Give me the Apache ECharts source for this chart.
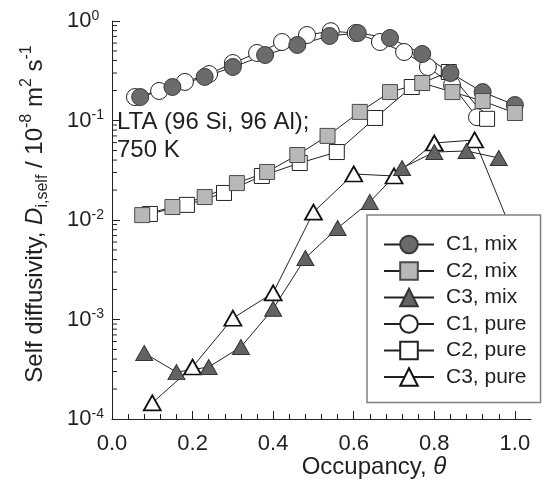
<!DOCTYPE html>
<html><head><meta charset="utf-8">
<script src="https://cdn.jsdelivr.net/npm/echarts@6/dist/echarts.min.js"></script>
<style>html,body{margin:0;padding:0;background:#fff}#c{width:544px;height:498px}</style>
</head><body><div id="c"></div>
<script>
// ---- data ----
const thetaC1Mix = [0.07, 0.15, 0.23, 0.30, 0.38, 0.46, 0.54, 0.61, 0.69, 0.77, 0.84, 0.92, 1.00];
const dC1Mix     = [0.172, 0.217, 0.274, 0.345, 0.455, 0.574, 0.707, 0.757, 0.675, 0.466, 0.300, 0.193, 0.143];
const thetaC2Mix = [0.075, 0.15, 0.23, 0.31, 0.385, 0.46, 0.535, 0.615, 0.69, 0.77, 0.845, 0.92, 1.00];
const dC2Mix     = [0.0112, 0.0135, 0.0170, 0.0235, 0.0304, 0.045, 0.070, 0.122, 0.193, 0.238, 0.193, 0.157, 0.119];
const thetaC3Mix = [0.08, 0.16, 0.24, 0.32, 0.40, 0.48, 0.56, 0.64, 0.72, 0.80, 0.88, 0.96];
const dC3Mix     = [4.6e-4, 2.96e-4, 3.33e-4, 5.3e-4, 1.28e-3, 4.15e-3, 8.3e-3, 0.0152, 0.0333, 0.0482, 0.0494, 0.042];
const thetaC1Pure = [0.057, 0.117, 0.181, 0.241, 0.300, 0.360, 0.422, 0.484, 0.543, 0.605, 0.665, 0.725, 0.784, 0.844, 0.906];
const dC1Pure     = [0.172, 0.198, 0.244, 0.293, 0.378, 0.477, 0.615, 0.723, 0.79, 0.757, 0.615, 0.488, 0.345, 0.227, 0.108];
const thetaC2Pure = [0.094, 0.186, 0.278, 0.372, 0.466, 0.558, 0.653, 0.744, 0.836, 0.931];
const dC2Pure     = [0.0115, 0.0142, 0.0187, 0.0277, 0.0374, 0.0482, 0.106, 0.217, 0.307, 0.104];
const thetaC3Pure = [0.10, 0.20, 0.30, 0.40, 0.50, 0.60, 0.70, 0.80, 0.90, 1.00];
const dC3Pure     = [1.45e-4, 3.33e-4, 1.03e-3, 1.85e-3, 0.0120, 0.029, 0.0277, 0.0594, 0.0637, 0.0065];

const seriesNames = ['C1, mix', 'C2, mix', 'C3, mix', 'C1, pure', 'C2, pure', 'C3, pure'];
const xMajorTicks = [0, 0.2, 0.4, 0.6, 0.8, 1.0];
const xMinorTicks = [0.04, 0.08, 0.12, 0.16, 0.24, 0.28, 0.32, 0.36, 0.44, 0.48, 0.52, 0.56,
                     0.64, 0.68, 0.72, 0.76, 0.84, 0.88, 0.92, 0.96];
const yMinorTicks = [2e-4,3e-4,4e-4,5e-4,6e-4,7e-4,8e-4,9e-4,
                     2e-3,3e-3,4e-3,5e-3,6e-3,7e-3,8e-3,9e-3,
                     2e-2,3e-2,4e-2,5e-2,6e-2,7e-2,8e-2,9e-2,
                     0.2,0.3,0.4,0.5,0.6,0.7,0.8,0.9];
const annotation = ['LTA (96 Si, 96 Al);', '750 K'];

// ---- chart ----
const FONT = '"Liberation Sans", Arial, sans-serif';
const INK = '#231f20';
const zip = (xs, ys) => xs.map((x, i) => [x, ys[i]]);
const LINE = { color: '#222', width: 1 };

function lineSeries(name, xs, ys, symbol, size, fill, border, bw) {
  return {
    name, type: 'line', data: zip(xs, ys), symbol, symbolSize: size,
    showSymbol: true, showAllSymbol: true,
    lineStyle: LINE,
    itemStyle: { color: fill, borderColor: border, borderWidth: bw, opacity: 1 },
    emphasis: { disabled: true }, clip: false
  };
}

const chart = echarts.init(document.getElementById('c'), null, { renderer: 'canvas' });
chart.setOption({
  animation: false,
  textStyle: { fontFamily: FONT },
  grid: { left: 112, right: 13, top: 21, bottom: 79, containLabel: false },
  xAxis: [{
    type: 'value', min: 0, max: 1.04,
    axisLine: { lineStyle: { color: '#222', width: 1 } },
    axisTick: { inside: true, length: 5, customValues: xMinorTicks, lineStyle: { color: '#222' } },
    axisLabel: { customValues: xMajorTicks, formatter: v => v.toFixed(1), fontSize: 22, color: INK, margin: 14, fontFamily: FONT },
    splitLine: { show: false }
  }, {
    type: 'value', min: 0, max: 1.04, position: 'bottom',
    axisLine: { show: false },
    axisTick: { inside: true, length: 8, customValues: xMajorTicks, lineStyle: { color: '#222' } },
    axisLabel: { show: false },
    splitLine: { show: false }
  }],
  yAxis: {
    type: 'log', logBase: 10, min: 1e-4, max: 1,
    axisLine: { show: true, lineStyle: { color: '#222', width: 1 } },
    axisTick: { inside: true, length: 8, lineStyle: { color: '#222' } },
    axisLabel: {
      align: 'left', margin: 45, color: INK,
      formatter: v => '{b|10}{s|' + Math.round(Math.log10(v)) + '}',
      rich: {
        b: { fontSize: 22, lineHeight: 24, fontFamily: FONT, color: INK },
        s: { fontSize: 14, lineHeight: 14, verticalAlign: 'top', fontFamily: FONT, color: INK }
      }
    },
    splitLine: { show: false }
  },
  legend: {
    data: seriesNames, orient: 'vertical', left: 367, top: 215,
    itemWidth: 50, itemHeight: 22, itemGap: 5.5,
    padding: [19, 14, 15, 16],
    backgroundColor: '#fff', borderColor: '#808080', borderWidth: 1.5,
    selectedMode: false, z: 20,
    textStyle: { fontSize: 21, color: INK, fontFamily: FONT, padding: [0, 0, 0, 7] }
  },
  graphic: [
    { type: 'text', left: 117, top: 108, z: 30,
      style: { text: annotation.join('\n'), font: '24px ' + FONT, fill: INK, lineHeight: 28 } },
    { type: 'text', x: 35, y: 214, rotation: Math.PI / 2, z: 30,
      style: {
        text: 'Self diffusivity, {i|D}{sub|i,self} / 10{sup|-8} m{sup|2} s{sup|-1}',
        align: 'center', verticalAlign: 'middle', fill: INK,
        font: '24px ' + FONT,
        rich: {
          i: { fontStyle: 'italic', fontSize: 24, lineHeight: 32, fontFamily: FONT },
          sub: { fontSize: 16, lineHeight: 16, verticalAlign: 'bottom', fontFamily: FONT },
          sup: { fontSize: 16, lineHeight: 16, verticalAlign: 'top', fontFamily: FONT }
        }
      } },
    { type: 'text', x: 374, y: 467, z: 30,
      style: { text: 'Occupancy, {i|θ}', align: 'center', verticalAlign: 'middle', fill: INK,
        font: '24px ' + FONT, rich: { i: { fontStyle: 'italic', fontSize: 24, fontFamily: FONT } } } }
  ],
  series: [
    lineSeries('C1, pure', thetaC1Pure, dC1Pure, 'circle', 17, '#ffffff', '#222', 1),
    lineSeries('C2, pure', thetaC2Pure, dC2Pure, 'rect', 15, '#ffffff', '#222', 1),
    lineSeries('C3, pure', thetaC3Pure, dC3Pure, 'triangle', [17, 15], '#ffffff', '#111', 1.8),
    lineSeries('C1, mix', thetaC1Mix, dC1Mix, 'circle', 17, '#6b6b6b', '#3a3a3a', 1),
    lineSeries('C2, mix', thetaC2Mix, dC2Mix, 'rect', 15, '#b8b8b8', '#4a4a4a', 1),
    lineSeries('C3, mix', thetaC3Mix, dC3Mix, 'triangle', [17, 15], '#636363', '#333', 1),
    {
      type: 'custom', silent: true, z: 3, clip: false,
      data: yMinorTicks.map(v => [0, v]),
      renderItem: (params, api) => {
        const p = api.coord([0, api.value(1)]);
        return { type: 'line', shape: { x1: p[0], y1: p[1], x2: p[0] + 5, y2: p[1] },
                 style: { stroke: '#222', lineWidth: 1 } };
      }
    }
  ]
});
</script></body></html>
